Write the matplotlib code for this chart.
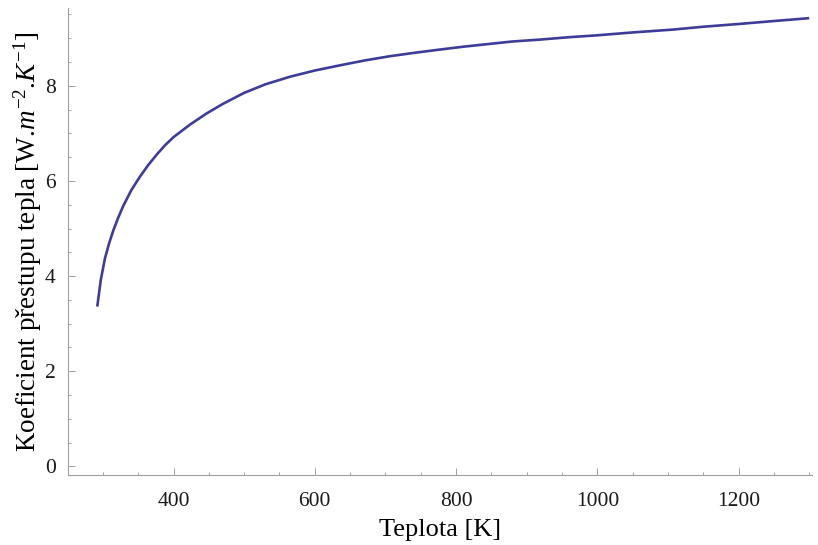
"""Heat transfer coefficient vs temperature (Mathematica-style plot)."""

import matplotlib
matplotlib.use('Agg')
import matplotlib.pyplot as plt
from matplotlib.ticker import MultipleLocator

# values
temperature = [292, 297, 303, 309, 315, 322, 329, 340, 352, 364, 376, 388, 400,
               423, 447, 470, 500, 530, 565, 600, 636, 670, 706, 740, 777,
               810, 848, 880, 919, 960, 1000, 1050, 1107, 1150, 1202, 1250, 1300]
coef = [3.36, 3.92, 4.38, 4.70, 4.97, 5.24, 5.48, 5.80, 6.08, 6.33, 6.55, 6.75, 6.92,
        7.18, 7.42, 7.62, 7.85, 8.03, 8.19, 8.32, 8.43, 8.53, 8.62, 8.69, 8.76,
        8.82, 8.88, 8.93, 8.97, 9.02, 9.06, 9.12, 9.18, 9.24, 9.30, 9.36, 9.42]

x_ticks = [400, 600, 800, 1000, 1200]
y_ticks = [0, 2, 4, 6, 8]

plt.rcParams['font.family'] = ['Liberation Serif', 'DejaVu Serif']
plt.rcParams['mathtext.fontset'] = 'custom'
plt.rcParams['mathtext.rm'] = 'Liberation Serif'
plt.rcParams['mathtext.it'] = 'Liberation Serif:italic'

fig = plt.figure(figsize=(8.18, 5.45), dpi=100)
ax = fig.add_axes([0.0835, 0.1284, 0.9092, 0.8566])

ax.plot(temperature, coef, color='#3d3d99', linewidth=1.9, solid_capstyle='butt')

ax.set_xlim(251, 1304)
ax.set_ylim(-0.18, 9.63)
ax.set_xticks(x_ticks)
ax.set_yticks(y_ticks)
ax.xaxis.set_minor_locator(MultipleLocator(50))
ax.yaxis.set_minor_locator(MultipleLocator(0.5))

for side in ('top', 'right'):
    ax.spines[side].set_visible(False)
for side in ('left', 'bottom'):
    ax.spines[side].set_color('#a0a0a0')
    ax.spines[side].set_linewidth(0.8)

ax.tick_params(which='both', direction='in', color='#a0a0a0', width=0.7,
               labelsize=15.5, labelcolor='#1a1a1a')
ax.tick_params(which='major', length=5)
ax.tick_params(which='minor', length=2.5)
ax.tick_params(axis='x', which='major', pad=12)
ax.tick_params(axis='y', which='major', pad=9)

ax.set_xlabel('Teplota [K]', fontsize=19, labelpad=6)
ax.set_ylabel('Koeficient přestupu tepla [W.$m^{-2}$.$K^{-1}$]', fontsize=19.5, labelpad=1)

fig.savefig('out.png', dpi=100)
